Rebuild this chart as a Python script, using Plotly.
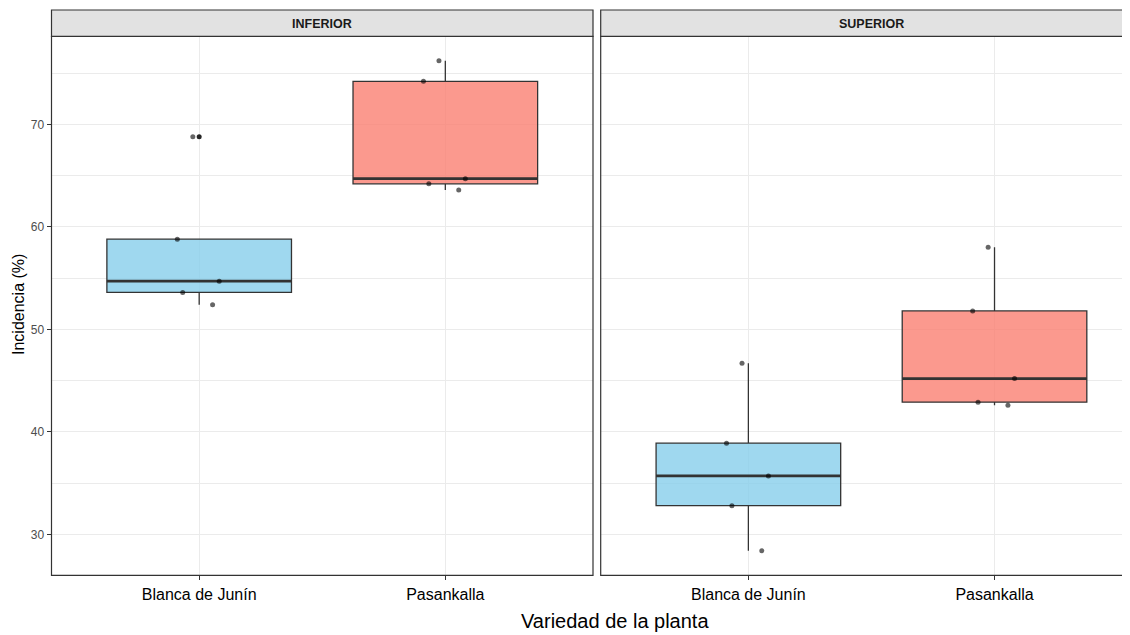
import numpy as np
import plotly.graph_objects as go

# ---------------- data ----------------
facets = ["INFERIOR", "SUPERIOR"]
varieties = ["Blanca de Junín", "Pasankalla"]

inferior_blanca = [68.8, 58.8, 54.7, 53.6, 52.4]
inferior_pasankalla = [76.2, 74.2, 64.7, 64.2, 63.6]
superior_blanca = [46.7, 38.9, 35.7, 32.8, 28.4]
superior_pasankalla = [58.0, 51.8, 45.2, 42.9, 42.6]

y_ticks = [30, 40, 50, 60, 70]

# ---------------- styling ----------------
FONT = "Arial, Liberation Sans, sans-serif"
fills = {"Blanca de Junín": "rgba(135,206,235,0.8)", "Pasankalla": "rgba(250,128,114,0.8)"}
EDGE = "#333333"
GRID = "#EBEBEB"
VIEW_W, VIEW_H = 1130, 635
OFF = 8  # page body margin
W, H = VIEW_W - OFF, VIEW_H - OFF

groups = {
    ("INFERIOR", "Blanca de Junín"): inferior_blanca,
    ("INFERIOR", "Pasankalla"): inferior_pasankalla,
    ("SUPERIOR", "Blanca de Junín"): superior_blanca,
    ("SUPERIOR", "Pasankalla"): superior_pasankalla,
}

fig = go.Figure()
for fi, facet in enumerate(facets):
    xa = "x" if fi == 0 else "x2"
    ya = "y" if fi == 0 else "y2"
    for vi, var in enumerate(varieties):
        vals = groups[(facet, var)]
        pos = vi + 1
        # main box with outliers (ggplot-style quartiles)
        fig.add_trace(go.Box(
            y=vals, x0=pos, width=0.75, quartilemethod="inclusive", whiskerwidth=0,
            boxpoints="outliers", pointpos=0, jitter=0,
            fillcolor=fills[var], line=dict(color=EDGE, width=1.3),
            marker=dict(color="rgba(0,0,0,0.85)", size=5),
            xaxis=xa, yaxis=ya, showlegend=False, hoverinfo="skip",
        ))
        # thicker median line
        med = float(np.median(vals))
        fig.add_trace(go.Box(
            q1=[med], median=[med], q3=[med], lowerfence=[med], upperfence=[med],
            x=[pos], width=0.75, whiskerwidth=0, fillcolor="rgba(0,0,0,0)",
            line=dict(color=EDGE, width=2.8),
            xaxis=xa, yaxis=ya, showlegend=False, hoverinfo="skip",
        ))
        # jittered points
        fig.add_trace(go.Box(
            y=vals, x0=pos, width=0.75, boxpoints="all", jitter=0.28, pointpos=0,
            whiskerwidth=0,
            fillcolor="rgba(0,0,0,0)", line=dict(color="rgba(0,0,0,0)", width=0),
            marker=dict(color="rgba(0,0,0,0.6)", size=5),
            xaxis=xa, yaxis=ya, showlegend=False, hoverinfo="skip",
        ))

# geometry (screen pixels)
p1_l, p1_r = 51.5, 593.0
p2_l = 600.7
p2_r_full = 1142.0
p_top, p_bot = 36.3, 575.3
strip_top = 10.0
px_per_unit = (p1_r - p1_l) / 2.2

def fx(px):
    return (px - OFF) / W

def fy(py):
    return (H - (py - OFF)) / H

y_range = [26.01, 78.59]

common_x = dict(
    tickvals=[1, 2], ticktext=varieties, showgrid=True, gridcolor=GRID, gridwidth=1,
    ticks="outside", ticklen=4, tickwidth=1, tickcolor=EDGE,
    tickfont=dict(family=FONT, size=16, color="#000000"),
    showline=False, zeroline=False, fixedrange=True,
)
fig.update_layout(
    xaxis=dict(domain=[fx(p1_l), fx(p1_r)], range=[0.4, 2.6], anchor="y", **common_x),
    xaxis2=dict(domain=[fx(p2_l), 1.0], range=[0.4, 0.4 + (VIEW_W - p2_l) / px_per_unit],
                anchor="y2", **common_x),
    yaxis=dict(domain=[fy(p_bot), fy(p_top)], range=y_range, tickvals=y_ticks,
               showgrid=True, gridcolor=GRID, gridwidth=1,
               minor=dict(dtick=5, tick0=25, showgrid=True, gridcolor=GRID, gridwidth=0.6, ticks=""),
               ticks="outside", ticklen=4, tickwidth=1, tickcolor=EDGE,
               tickfont=dict(family=FONT, size=12, color="#4D4D4D"),
               showline=False, zeroline=False, anchor="x", fixedrange=True),
    yaxis2=dict(domain=[fy(p_bot), fy(p_top)], range=y_range, tickvals=y_ticks,
                showgrid=True, gridcolor=GRID, gridwidth=1,
                minor=dict(dtick=5, tick0=25, showgrid=True, gridcolor=GRID, gridwidth=0.6, ticks=""),
                showticklabels=False, ticks="",
                showline=False, zeroline=False, anchor="x2", matches="y", fixedrange=True),
    boxmode="overlay",
    width=W, height=H, margin=dict(l=0, r=0, t=0, b=0),
    paper_bgcolor="white", plot_bgcolor="white",
    showlegend=False,
)

shapes = []
annotations = []
for (l, r), label in zip([(p1_l, p1_r), (p2_l, p2_r_full)], facets):
    # panel border
    shapes.append(dict(type="rect", xref="paper", yref="paper",
                       x0=fx(l), x1=fx(r), y0=fy(p_bot), y1=fy(p_top),
                       line=dict(color=EDGE, width=1.2), fillcolor="rgba(0,0,0,0)", layer="above"))
    # strip
    shapes.append(dict(type="rect", xref="paper", yref="paper",
                       x0=fx(l), x1=fx(r), y0=fy(p_top), y1=fy(strip_top),
                       line=dict(color=EDGE, width=1.2), fillcolor="#E2E2E2", layer="above"))
    annotations.append(dict(text="<b>" + label + "</b>", xref="paper", yref="paper",
                            x=fx((l + r) / 2), y=fy((strip_top + p_top) / 2 + 0.5),
                            showarrow=False, xanchor="center", yanchor="middle",
                            font=dict(family=FONT, size=12.5, color="#1A1A1A")))

annotations.append(dict(text="Variedad de la planta", xref="paper", yref="paper",
                        x=fx(615), y=fy(621), showarrow=False, xanchor="center", yanchor="middle",
                        font=dict(family=FONT, size=20, color="#000000")))
annotations.append(dict(text="Incidencia (%)", xref="paper", yref="paper",
                        x=fx(18), y=fy(305), showarrow=False, xanchor="center", yanchor="middle",
                        textangle=-90, font=dict(family=FONT, size=16, color="#000000")))

fig.update_layout(shapes=shapes, annotations=annotations)
fig.write_html("out.html", config={"displayModeBar": False})
